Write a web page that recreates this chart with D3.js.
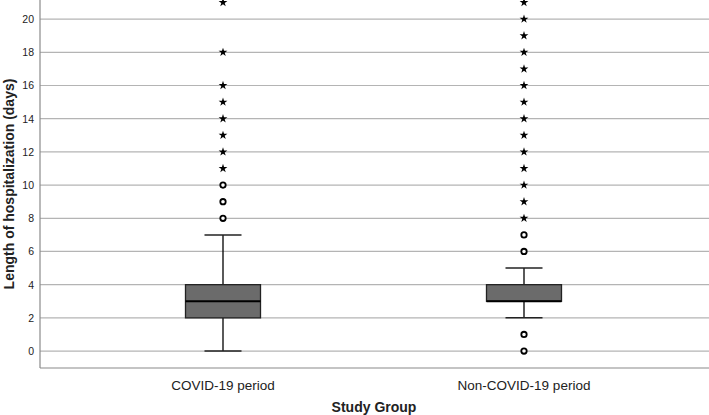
<!DOCTYPE html>
<html><head><meta charset="utf-8">
<script src="https://cdn.jsdelivr.net/npm/d3@7"></script>
<style>body{margin:0;background:#fff}svg{display:block}text{font-family:"Liberation Sans",Arial,sans-serif}</style>
</head><body>
<script>
const categories = ["COVID-19 period", "Non-COVID-19 period"];
const whiskerLow = [0, 2];
const q1 = [2, 3];
const median = [3, 3];
const q3 = [4, 4];
const whiskerHigh = [7, 5];
const outliersCircle = [[8, 9, 10], [0, 1, 6, 7]];
const outliersStar = [[11, 12, 13, 14, 15, 16, 18, 21], [8, 9, 10, 11, 12, 13, 14, 15, 16, 17, 18, 19, 20, 21]];
const yTicks = [0, 2, 4, 6, 8, 10, 12, 14, 16, 18, 20];

(function () {
const W = 709, H = 415;
const mLeft = 40, mRight = 709, mTop = 0, mBottom = 368;
const svg = d3.select("body").append("svg").attr("width", W).attr("height", H);

const y = d3.scaleLinear().domain([-1.02, 21.15]).range([mBottom, mTop]);
const x = d3.scaleBand().domain(categories).range([72.5, 674.5]);
const xc = c => x(c) + x.bandwidth() / 2;

svg.append("g").selectAll("line").data(yTicks).join("line")
  .attr("x1", mLeft).attr("x2", mRight).attr("y1", d => y(d)).attr("y2", d => y(d))
  .attr("stroke", "#b4b4b4").attr("stroke-width", 1.2);

const yAxis = d3.axisLeft(y).tickValues(yTicks).tickSize(0).tickPadding(6);
const ga = svg.append("g").attr("transform", `translate(${mLeft},0)`).call(yAxis);
ga.select(".domain").remove();
ga.selectAll("text").attr("font-size", 10.5).attr("fill", "#222");
svg.append("line").attr("x1", mLeft).attr("x2", mLeft).attr("y1", 0).attr("y2", mBottom).attr("stroke", "#8a8a8a").attr("stroke-width", 1.2);
svg.append("line").attr("x1", mLeft).attr("x2", mRight).attr("y1", mBottom).attr("y2", mBottom).attr("stroke", "#8a8a8a").attr("stroke-width", 1.2);

const xAxis = d3.axisBottom(x).tickSize(0).tickPadding(12);
const gx = svg.append("g").attr("transform", `translate(0,${mBottom})`).call(xAxis);
gx.select(".domain").remove();
gx.selectAll("text").attr("font-size", 13.5).attr("fill", "#222");

svg.append("text").attr("x", 374).attr("y", 412).attr("text-anchor", "middle")
  .attr("font-size", 14).attr("font-weight", "bold").attr("fill", "#222").text("Study Group");
svg.append("text").attr("transform", "translate(14,184) rotate(-90)").attr("text-anchor", "middle")
  .attr("font-size", 14).attr("font-weight", "bold").attr("fill", "#222").text("Length of hospitalization (days)");

const boxW = 75, capW = 37;
categories.forEach((c, i) => {
  const cx = xc(c);
  const g = svg.append("g");
  g.append("line").attr("x1", cx).attr("x2", cx).attr("y1", y(whiskerHigh[i])).attr("y2", y(q3[i])).attr("stroke", "#000").attr("stroke-width", 1.3);
  g.append("line").attr("x1", cx).attr("x2", cx).attr("y1", y(q1[i])).attr("y2", y(whiskerLow[i])).attr("stroke", "#000").attr("stroke-width", 1.3);
  [whiskerHigh[i], whiskerLow[i]].forEach(v => {
    g.append("line").attr("x1", cx - capW / 2).attr("x2", cx + capW / 2).attr("y1", y(v)).attr("y2", y(v)).attr("stroke", "#222").attr("stroke-width", 1.5);
  });
  g.append("rect").attr("x", cx - boxW / 2).attr("width", boxW).attr("y", y(q3[i])).attr("height", y(q1[i]) - y(q3[i]))
    .attr("fill", "#6b6b6b").attr("stroke", "#222").attr("stroke-width", 1.3);
  g.append("line").attr("x1", cx - boxW / 2).attr("x2", cx + boxW / 2).attr("y1", y(median[i])).attr("y2", y(median[i])).attr("stroke", "#000").attr("stroke-width", 2.2);
  g.selectAll("circle").data(outliersCircle[i]).join("circle")
    .attr("cx", cx).attr("cy", d => y(d)).attr("r", 2.7).attr("fill", "#fff").attr("stroke", "#000").attr("stroke-width", 1.8);
  g.selectAll("path.star").data(outliersStar[i]).join("path").attr("class", "star")
    .attr("transform", d => `translate(${cx},${y(d)})`).attr("d", d3.symbol(d3.symbolStar, 24)).attr("fill", "#000");
});
})();
</script>
</body></html>
